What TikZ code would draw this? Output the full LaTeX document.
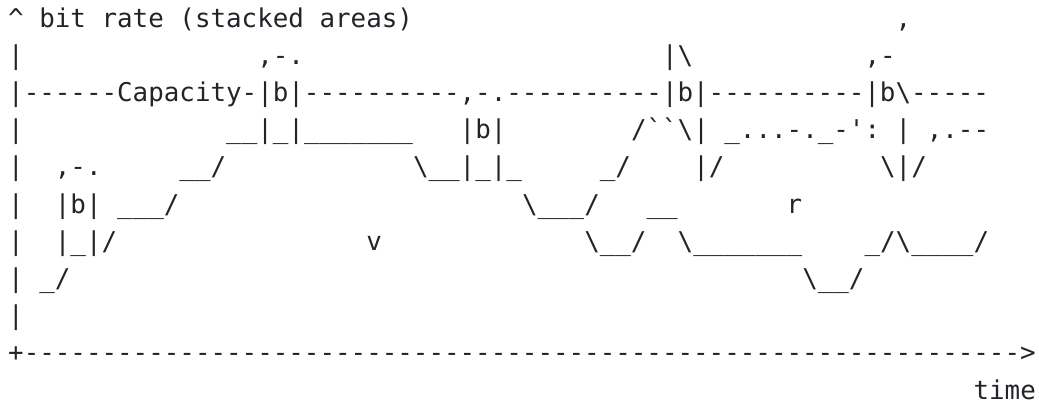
\documentclass[tikz,border=0pt]{standalone}
\usepackage{fontspec}
\setmonofont{DejaVu Sans Mono}
\definecolor{ink}{RGB}{33,37,41}
\newcommand{\zehnstriche}{----------}
\begin{document}
\begin{tikzpicture}[x=15.57pt,y=-37.2pt,
  ascii/.style={anchor=base west,inner sep=0pt,outer sep=0pt,text=ink,
    text depth=0pt,font=\ttfamily\fontsize{25.86}{31}\selectfont}]
\useasboundingbox (-8.2pt,27pt) rectangle (1030.8pt,-375pt);
%Achse
	\node[ascii] (titel) at (0,0) {\textasciicircum{} bit rate (stacked areas)};
	\node[ascii] (a2) at (0,1) {|};
	\node[ascii] (a4) at (0,3) {|};
	\node[ascii] (a5) at (0,4) {|};
	\node[ascii] (a6) at (0,5) {|};
	\node[ascii] (a7) at (0,6) {|};
	\node[ascii] (a8) at (0,7) {|};
	\node[ascii] (a9) at (0,8) {|};
	\node[ascii] (zeit) at (0,9)
		{+\zehnstriche\zehnstriche\zehnstriche\zehnstriche\zehnstriche\zehnstriche---->};
	\node[ascii] (time) at (62,10) {time};
%Kapazitaet
	\node[ascii] (kap) at (0,2)
		{|------Capacity-|b|----------,-.----------|b|----------|b\textbackslash-----};
%Spitzen ueber der Kapazitaet
	\node[ascii] (s1) at (16,1) {,-.};
	\node[ascii] (s2) at (42,1) {|\textbackslash};
	\node[ascii] (s3) at (55,1) {,-};
	\node[ascii] (s4) at (57,0) {,};
%Flaechen
	\node[ascii] (f41) at (14,3) {\_\_|\_|\_\_\_\_\_\_\_};
	\node[ascii] (f42) at (29,3) {|b|};
	\node[ascii] (f43) at (40,3) {/``\textbackslash|};
	\node[ascii] (f44) at (46,3) {\_...-.\_-':};
	\node[ascii] (f45) at (57,3) {|};
	\node[ascii] (f46) at (59,3) {,.--};
	\node[ascii] (f51) at (3,4) {,-.};
	\node[ascii] (f52) at (11,4) {\_\_/};
	\node[ascii] (f53) at (26,4) {\textbackslash\_\_|\_|\_};
	\node[ascii] (f54) at (38,4) {\_/};
	\node[ascii] (f55) at (44,4) {|/};
	\node[ascii] (f56) at (56,4) {\textbackslash|/};
	\node[ascii] (f61) at (3,5) {|b|};
	\node[ascii] (f62) at (7,5) {\_\_\_/};
	\node[ascii] (f63) at (33,5) {\textbackslash\_\_\_/};
	\node[ascii] (f64) at (41,5) {\_\_};
	\node[ascii] (f71) at (3,6) {|\_|/};
	\node[ascii] (f72) at (37,6) {\textbackslash\_\_/};
	\node[ascii] (f73) at (43,6) {\textbackslash\_\_\_\_\_\_\_};
	\node[ascii] (f74) at (55,6) {\_/\textbackslash\_\_\_\_/};
	\node[ascii] (f81) at (2,7) {\_/};
	\node[ascii] (f82) at (51,7) {\textbackslash\_\_/};
%Beschriftung
	\node[ascii] (video) at (23,6) {v};
	\node[ascii] (rest) at (50,5) {r};
\end{tikzpicture}
\end{document}
